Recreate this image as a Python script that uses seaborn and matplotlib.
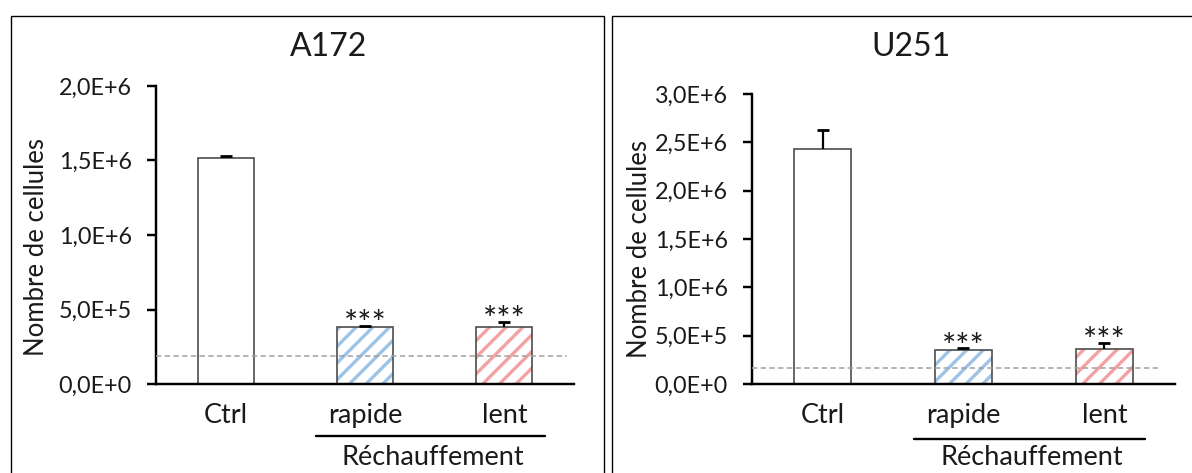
import numpy as np
import pandas as pd
import matplotlib
matplotlib.use("Agg")
import matplotlib.pyplot as plt
import matplotlib.transforms as mtransforms
from matplotlib.patches import Rectangle
import seaborn as sns

# ---------------- data ----------------
conditions = ["Ctrl", "rapide", "lent"]
group_label = "Réchauffement"
ylabel_text = "Nombre de cellules"
stars = ["", "***", "***"]

a172_title = "A172"
a172_values = [1.517e6, 0.383e6, 0.383e6]
a172_errors = [1.2e4, 0.8e4, 3.2e4]
a172_threshold = 1.88e5
a172_yticks = [0, 5e5, 1e6, 1.5e6, 2e6]
a172_yticklabels = ["0,0E+0", "5,0E+5", "1,0E+6", "1,5E+6", "2,0E+6"]

u251_title = "U251"
u251_values = [2.43e6, 0.352e6, 0.362e6]
u251_errors = [1.96e5, 1.8e4, 6.2e4]
u251_threshold = 1.65e5
u251_yticks = [0, 5e5, 1e6, 1.5e6, 2e6, 2.5e6, 3e6]
u251_yticklabels = ["0,0E+0", "5,0E+5", "1,0E+6", "1,5E+6", "2,0E+6", "2,5E+6", "3,0E+6"]

hatch_colors = [None, "#9DC3E6", "#F4A1A1"]

# ---------------- style ----------------
sns.set_theme(style="white")
plt.rcParams["font.family"] = ["Lato", "DejaVu Sans"]
plt.rcParams["hatch.linewidth"] = 2.4
TXT = "#1a1a1a"
plt.rcParams["text.color"] = TXT
plt.rcParams["xtick.color"] = TXT
plt.rcParams["ytick.color"] = TXT

fig = plt.figure(figsize=(11.92, 4.73), dpi=100)
fig.patch.set_facecolor("white")

W, H = 1192.0, 473.0


def px_axes(x0, x1, ytop, ybot):
    return fig.add_axes([x0 / W, 1 - ybot / H, (x1 - x0) / W, (ybot - ytop) / H])


def panel(ax, title, title_x, values, errors, threshold, yticks, yticklabels,
          line_xmax, ylabel_xy, bracket_y, group_y):
    df = pd.DataFrame({"cond": conditions, "val": values})
    sns.barplot(data=df, x="cond", y="val", order=conditions, hue="cond",
                palette={c: "white" for c in conditions}, legend=False,
                width=0.4, errorbar=None, ax=ax, linewidth=0)
    bars = sorted(ax.patches, key=lambda p: p.get_x())
    for bar, hc in zip(bars, hatch_colors):
        bar.set_facecolor("white")
        if hc is not None:
            bar.set_hatch("//")
            bar.set_edgecolor(hc)
        bar.set_linewidth(0)
        ax.add_patch(Rectangle(bar.get_xy(), bar.get_width(), bar.get_height(),
                               fill=False, edgecolor="#4d4d4d", lw=1.2,
                               zorder=bar.get_zorder() + 0.1))
    xs = [b.get_x() + b.get_width() / 2 for b in bars]
    eb = ax.errorbar(xs, values, yerr=[np.zeros(len(values)), errors], fmt="none",
                     ecolor="black", elinewidth=1.6, capsize=4.6, capthick=2.0,
                     zorder=5)
    # keep only the upper caps (errors drawn upwards only)
    for cl in eb[1]:
        if np.allclose(np.asarray(cl.get_ydata(), dtype=float), values):
            cl.set_visible(False)
    for x, v, e, s in zip(xs, values, errors, stars):
        if s:
            ax.annotate(s, xy=(x, v + e), xytext=(0, -6), textcoords="offset points",
                        ha="center", va="baseline", fontsize=24, color=TXT)
    ax.axhline(threshold, xmin=0, xmax=line_xmax, color="#A0A0A0", lw=1.1,
               linestyle=(0, (3.5, 2.2)), zorder=6)

    ax.set_xlim(-0.5, 2.5)
    ax.set_ylim(yticks[0], yticks[-1])
    ax.set_yticks(yticks)
    ax.set_yticklabels(yticklabels)
    ax.set_xlabel("")
    ax.set_ylabel(ylabel_text, fontsize=18.5, color=TXT)
    ax.yaxis.set_label_coords(*ylabel_xy)
    sns.despine(ax=ax)
    for sp in ["left", "bottom"]:
        ax.spines[sp].set_linewidth(1.75)
        ax.spines[sp].set_color("black")
    ax.tick_params(axis="y", left=True, length=6.5, width=1.75, direction="out",
                   labelsize=16.8, pad=11, color="black")
    ax.tick_params(axis="x", bottom=False, length=0, labelsize=19.5, pad=13.5)
    ax.set_facecolor("white")

    trans = mtransforms.blended_transform_factory(ax.transData, ax.transAxes)
    ax.plot([0.65, 2.29], [bracket_y, bracket_y], transform=trans, color="black",
            lw=1.7, clip_on=False)
    ax.text(1.487, group_y, group_label, transform=trans, ha="center",
            va="baseline", fontsize=19.5, clip_on=False, color=TXT)

    fig.text(title_x / W, 1 - 56 / H, title, ha="center", va="baseline",
             fontsize=23, color=TXT)


ax1 = px_axes(156, 574, 86, 384)
panel(ax1, a172_title, 328.5, a172_values, a172_errors, a172_threshold,
      a172_yticks, a172_yticklabels, 0.983, (-0.256, 0.461), -0.1745, -0.272)

ax2 = px_axes(752, 1175, 94, 384)
panel(ax2, u251_title, 910.5, u251_values, u251_errors, u251_threshold,
      u251_yticks, u251_yticklabels, 0.967, (-0.236, 0.466), -0.1897, -0.279)

# panel frames
fig.patches.append(Rectangle((11 / W, -0.05), (604 - 11) / W, 0.05 + 1 - 15.7 / H,
                             transform=fig.transFigure, fill=False,
                             edgecolor="black", lw=1.0))
fig.patches.append(Rectangle((612 / W, -0.05), 0.6, 0.05 + 1 - 15.7 / H,
                             transform=fig.transFigure, fill=False,
                             edgecolor="black", lw=1.0))

fig.savefig("out.png", dpi=100)
